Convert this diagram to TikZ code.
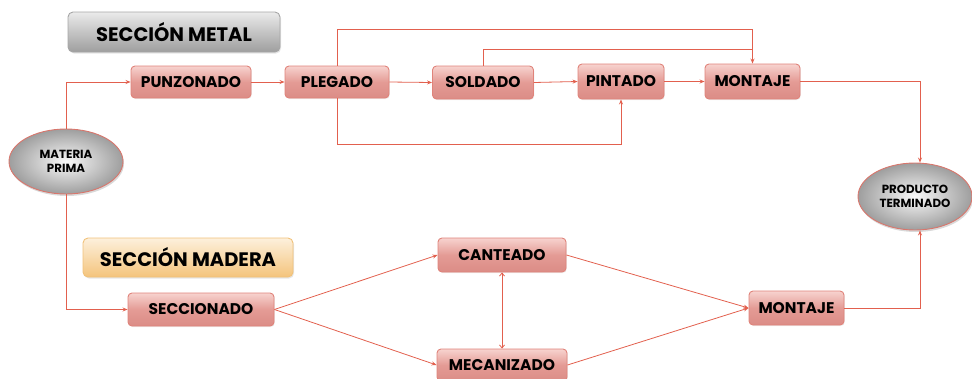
\documentclass[tikz,border=0pt]{standalone}
\usepackage{fontspec}
\setmainfont{Poppins}
\usetikzlibrary{arrows.meta,shapes.geometric,shadows}
\definecolor{ln}{HTML}{E2604E}
\definecolor{boxtop}{HTML}{F7D3CF}
\definecolor{boxmid}{HTML}{E49B95}
\definecolor{boxbot}{HTML}{DB8C86}
\definecolor{boxdraw}{HTML}{E0837A}
\definecolor{elldraw}{HTML}{D9766C}
\definecolor{madtop}{HTML}{FDF0DC}
\definecolor{madbot}{HTML}{F4C47C}
\definecolor{maddraw}{HTML}{F1C27A}
\begin{document}
\begin{tikzpicture}[x=1pt,y=-1pt,
  procbox/.style={rectangle, rounded corners=4pt, draw=boxdraw, line width=0.9pt,
    top color=boxtop, bottom color=boxbot, middle color=boxmid,
    inner sep=0pt, font=\bfseries\fontsize{15.5}{17}\selectfont,
    drop shadow={opacity=0.15, shadow xshift=0.8pt, shadow yshift=-1pt}},
  ellnode/.style={ellipse, draw=elldraw, line width=0.9pt, inner sep=0pt,
    shading=radial, inner color=white!95!gray, outer color=black!38,
    align=center, font=\bfseries\fontsize{11.8}{14}\selectfont,
    drop shadow={opacity=0.3, shadow xshift=1pt, shadow yshift=-2pt}},
  titlebox/.style={rectangle, rounded corners=5pt, line width=0.9pt, inner sep=0pt,
    font=\bfseries\fontsize{19.5}{22}\selectfont,
    drop shadow={opacity=0.2, shadow xshift=1pt, shadow yshift=-1.5pt}},
  conn/.style={draw=ln, line width=0.8pt},
  arr/.style={conn, -{Stealth[length=5pt,width=4pt]}},
  darr/.style={conn, {Straight Barb[length=3pt,width=5pt]}-{Straight Barb[length=3pt,width=5pt]}}
]
\useasboundingbox (0,0) rectangle (972,378);

% section titles
\node[titlebox, draw=black!35, top color=black!8, bottom color=black!38,
  minimum width=212pt, minimum height=40pt] (metal) at (174,32) {SECCIÓN METAL};
\node[titlebox, draw=maddraw, top color=madtop, bottom color=madbot,
  minimum width=210pt, minimum height=39pt] (madera) at (188,257.5) {SECCIÓN MADERA};

% metal line
\node[procbox, minimum width=120pt, minimum height=32pt] (punz) at (191,82) {PUNZONADO};
\node[procbox, minimum width=104pt, minimum height=32pt] (pleg) at (337,82) {PLEGADO};
\node[procbox, minimum width=101pt, minimum height=33pt] (sold) at (483,82.5) {SOLDADO};
\node[procbox, minimum width=86pt, minimum height=35pt] (pint) at (621,81.5) {PINTADO};
\node[procbox, minimum width=95pt, minimum height=35pt] (mont1) at (752.5,81.5) {MONTAJE};

% ellipses
\node[ellnode, minimum width=114pt, minimum height=65pt] (mat) at (66,161.5) {MATERIA\\PRIMA};
\node[ellnode, minimum width=114pt, minimum height=67pt] (prod) at (915,196.5) {PRODUCTO\\TERMINADO};

% wood line
\node[procbox, minimum width=146pt, minimum height=33pt] (secc) at (201,309.5) {SECCIONADO};
\node[procbox, minimum width=128pt, minimum height=34pt] (cant) at (502,255) {CANTEADO};
\node[procbox, minimum width=130pt, minimum height=32pt] (meca) at (502,365) {MECANIZADO};
\node[procbox, minimum width=95pt, minimum height=34pt] (mont2) at (796.5,308) {MONTAJE};

% connectors metal
\draw[arr] (mat.north) |- (punz.west);
\draw[arr] (punz.east) -- (pleg.west);
\draw[arr] (pleg.east) -- (sold.west);
\draw[arr] (sold.east) -- (pint.west);
\draw[arr] (pint.east) -- (mont1.west);
\draw[arr] (pleg.north) |- (mont1.north |- 0,29) -- (mont1.north);
\draw[conn] (sold.north) |- (mont1.north |- 0,49);
\draw[arr] (pleg.south) |- (pint.south |- 0,144) -- (pint.south);
\draw[arr] (mont1.east) -| (prod.north -| 920,0);

% connectors wood
\draw[arr] (mat.south) |- (secc.west);
\draw[arr] (secc.east) -- (cant.west);
\draw[arr] (secc.east) -- (meca.west);
\draw[darr] (cant.south) -- (meca.north);
\draw[arr] (cant.east) -- (mont2.west);
\draw[arr] (meca.east) -- (mont2.west);
\draw[arr] (mont2.east) -| (prod.south -| 920,0);
\end{tikzpicture}
\end{document}
